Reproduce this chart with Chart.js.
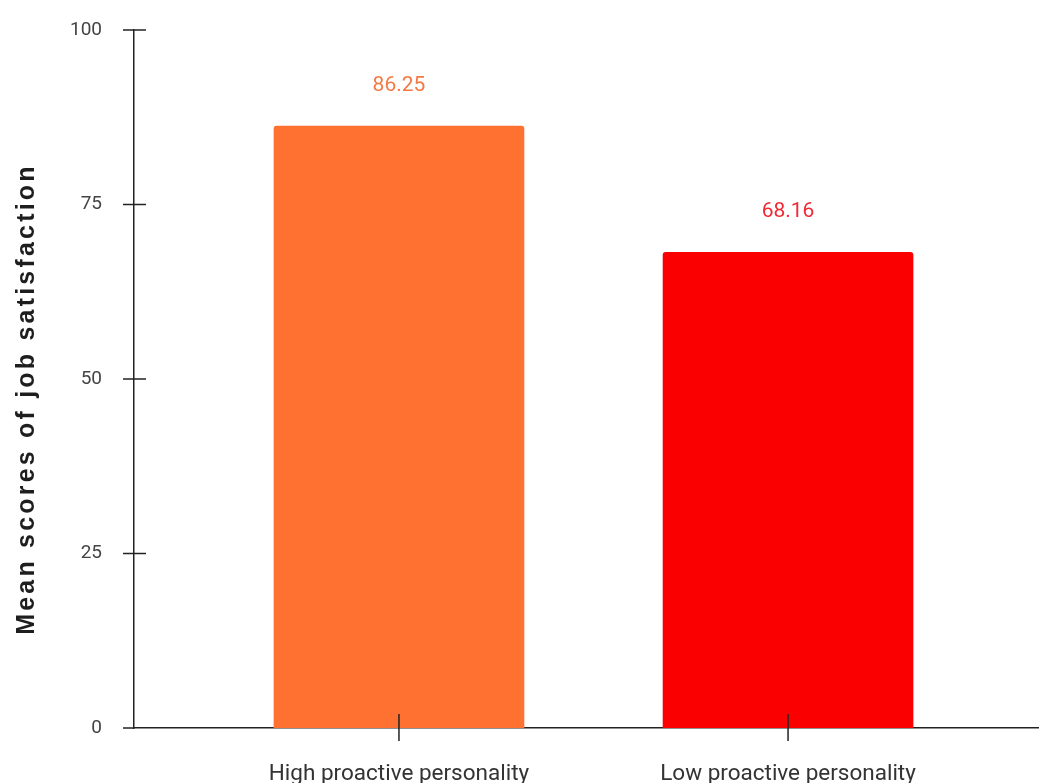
<!DOCTYPE html>
<html>
<head>
<meta charset="utf-8">
<script src="https://cdn.jsdelivr.net/npm/chart.js@4.4.0/dist/chart.umd.min.js"></script>
<style>
  html, body { margin: 0; padding: 0; background: #fff; }
  #wrap { width: 1039px; height: 783px; }
</style>
</head>
<body>
<div id="wrap"><canvas id="chart"></canvas></div>
<script>
// dados do gráfico
const categorias = ['High proactive personality', 'Low proactive personality'];
const medias = [86.25, 68.16];
const coresBarras = ['#ff7131', '#fb0000'];
const coresRotulos = ['#f37a45', '#ef2a35'];
const ticksY = [0, 25, 50, 75, 100];
const tituloY = 'Mean scores of job satisfaction';

// marcas de eixo que cruzam a linha do eixo + título do eixo Y
const marcasEixo = {
    id: 'marcasEixo',
    afterDraw(chart) {
        const ctx = chart.ctx;
        const x = chart.scales.x;
        const y = chart.scales.y;
        ctx.save();
        ctx.strokeStyle = '#222';
        ctx.lineWidth = 1.5;
        ticksY.forEach(v => {
            const py = y.getPixelForValue(v);
            ctx.beginPath();
            ctx.moveTo(y.right - 11, py);
            ctx.lineTo(v === 0 ? y.right : y.right + 12, py);
            ctx.stroke();
        });
        categorias.forEach((c, i) => {
            const px = x.getPixelForValue(i);
            ctx.beginPath();
            ctx.moveTo(px, x.top - 14);
            ctx.lineTo(px, x.top + 13);
            ctx.stroke();
        });
        // título com espaçamento entre letras
        ctx.translate(27, (y.top + y.bottom) / 2 + 20);
        ctx.rotate(-Math.PI / 2);
        ctx.font = 'bold 25px "Liberation Sans"';
        ctx.letterSpacing = '3.2px';
        ctx.fillStyle = '#1e1e1e';
        ctx.textAlign = 'center';
        ctx.textBaseline = 'middle';
        ctx.fillText(tituloY, 0, 0);
        ctx.restore();
    }
};

// rótulos com os valores acima das barras
const rotulosValores = {
    id: 'rotulosValores',
    afterDatasetsDraw(chart) {
        const ctx = chart.ctx;
        const meta = chart.getDatasetMeta(0);
        ctx.save();
        ctx.font = '21px Roboto';
        ctx.textAlign = 'center';
        ctx.textBaseline = 'middle';
        meta.data.forEach((bar, i) => {
            ctx.fillStyle = coresRotulos[i];
            ctx.fillText(medias[i].toFixed(2), bar.x, bar.y - 40);
        });
        ctx.restore();
    }
};

new Chart(document.getElementById('chart').getContext('2d'), {
    type: 'bar',
    data: {
        datasets: [{
            data: medias.map((v, i) => ({ x: i, y: v })),
            backgroundColor: coresBarras,
            borderRadius: 3,
            borderSkipped: 'bottom',
            barThickness: 250
        }]
    },
    options: {
        responsive: true,
        maintainAspectRatio: false,
        animation: false,
        layout: { padding: { top: 30, right: 0, left: 0, bottom: 0 } },
        plugins: { legend: { display: false }, tooltip: { enabled: false } },
        scales: {
            x: {
                type: 'linear',
                offset: false,
                min: -0.681,
                max: 1.645,
                grid: { display: false, offset: false },
                border: { display: true, color: '#222', width: 1.5 },
                afterBuildTicks: scale => { scale.ticks = categorias.map((c, i) => ({ value: i })); },
                afterFit: scale => { scale.height = 55; scale.paddingLeft = 0; scale.paddingRight = 0; },
                ticks: {
                    callback: v => categorias[v],
                    color: '#333',
                    font: { family: 'Roboto', size: 22.5 },
                    padding: 25,
                    maxRotation: 0
                }
            },
            y: {
                min: 0,
                max: 100,
                grid: { display: false },
                border: { display: true, color: '#222', width: 1.5 },
                afterBuildTicks: scale => { scale.ticks = ticksY.map(v => ({ value: v })); },
                afterFit: scale => { scale.width = 134; scale.paddingTop = 0; scale.paddingBottom = 0; },
                ticks: {
                    color: '#444',
                    font: { family: 'Roboto', size: 19 },
                    padding: 24
                }
            }
        }
    },
    plugins: [marcasEixo, rotulosValores]
});
</script>
</body>
</html>
